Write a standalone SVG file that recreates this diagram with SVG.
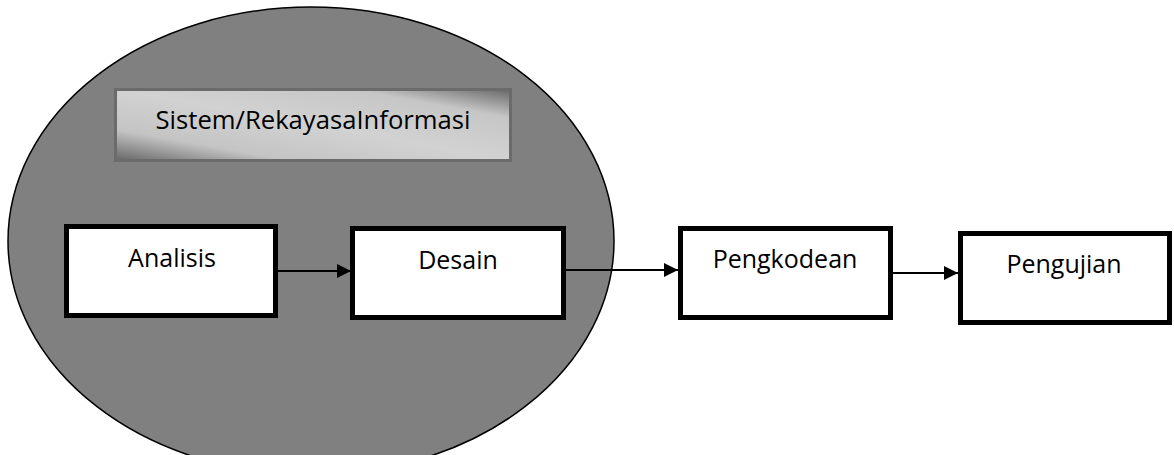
<svg xmlns="http://www.w3.org/2000/svg" width="1174" height="455" viewBox="0 0 1174 455">
  <style>
    .lbl { font-family: "Open Sans", "Liberation Sans", sans-serif; font-size: 25px; fill: #000; text-anchor: middle; }
    .box { fill: #fff; stroke: #000; stroke-width: 5; }
    .edge { stroke: #000; stroke-width: 2; fill: none; marker-end: url(#head); }
  </style>
  <defs>
    <marker id="head" viewBox="0 0 14 14" refX="14" refY="7" markerWidth="14" markerHeight="14" markerUnits="userSpaceOnUse" orient="auto">
      <path d="M0,0 L14,7 L0,14 Z" fill="#000"/>
    </marker>
    <linearGradient id="silver" x1="0" y1="1" x2="1" y2="0">
      <stop offset="0" stop-color="#666"/>
      <stop offset="0.22" stop-color="#c4c4c4"/>
      <stop offset="0.5" stop-color="#d2d2d2"/>
      <stop offset="0.8" stop-color="#c6c6c6"/>
      <stop offset="1" stop-color="#676767"/>
    </linearGradient>
  </defs>

  <!-- grouping ellipse -->
  <g id="scope">
    <ellipse cx="311" cy="241" rx="303" ry="234" fill="#808080" stroke="#000" stroke-width="1.5"/>
  </g>

  <g id="title">
    <rect x="115.5" y="89.5" width="395" height="71" fill="url(#silver)" stroke="#6b6b6b" stroke-width="3"/>
    <text class="lbl" x="313" y="129" textLength="315" lengthAdjust="spacingAndGlyphs">Sistem/RekayasaInformasi</text>
  </g>

  <g id="connectors">
    <line class="edge" x1="278" y1="271" x2="351" y2="271"/>
    <line class="edge" x1="566" y1="270" x2="678" y2="270"/>
    <line class="edge" x1="893" y1="273" x2="958" y2="273"/>
  </g>

  <g id="analisis">
    <rect class="box" x="66.5" y="226.5" width="209" height="89"/>
    <text class="lbl" x="172" y="267">Analisis</text>
  </g>
  <g id="desain">
    <rect class="box" x="352.5" y="228.5" width="211" height="89"/>
    <text class="lbl" x="458" y="269">Desain</text>
  </g>
  <g id="pengkodean">
    <rect class="box" x="680.5" y="228.5" width="210" height="89"/>
    <text class="lbl" x="785" y="268">Pengkodean</text>
  </g>
  <g id="pengujian">
    <rect class="box" x="960.5" y="233.5" width="209" height="89"/>
    <text class="lbl" x="1064" y="273">Pengujian</text>
  </g>
</svg>
